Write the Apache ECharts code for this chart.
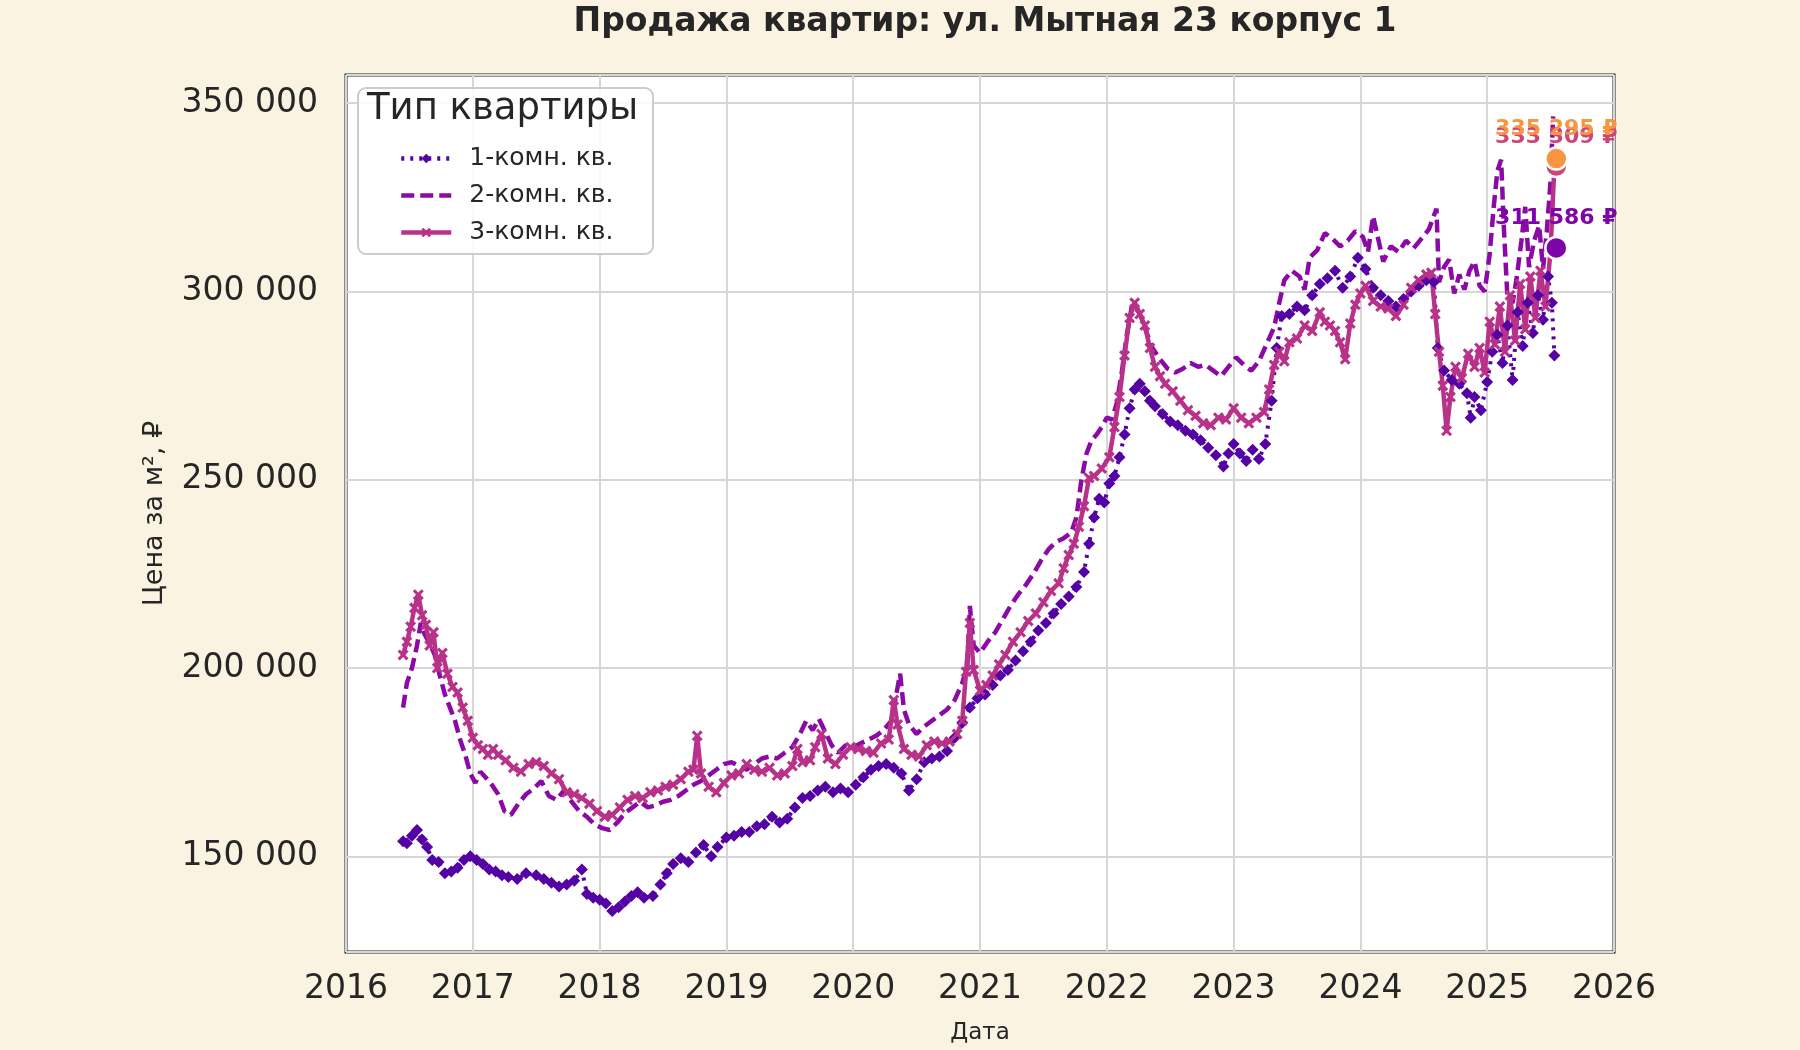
<!DOCTYPE html>
<html>
<head>
<meta charset="utf-8">
<script src="https://cdn.jsdelivr.net/npm/echarts@6/dist/echarts.min.js"></script>
<style>
  html, body { margin: 0; padding: 0; background: #faf3e1; }
  #chart { width: 1800px; height: 1050px; }
</style>
</head>
<body>
<div id="chart"></div>
<script>
// даты в долях года, цены за м2
var names = ['1-комн. кв.', '2-комн. кв.', '3-комн. кв.'];

var d1 = [2016.45,2016.48,2016.52,2016.56,2016.60,2016.64,2016.68,2016.73,2016.78,2016.83,2016.88,2016.93,2016.98,
  2017.03,2017.08,2017.13,2017.18,2017.23,2017.28,2017.35,2017.42,2017.50,2017.56,2017.62,2017.68,2017.74,2017.80,2017.86,2017.90,2017.95,
  2018.00,2018.05,2018.10,2018.15,2018.20,2018.25,2018.30,2018.35,2018.42,2018.48,2018.53,2018.58,2018.64,2018.70,2018.76,2018.82,2018.88,2018.93,
  2019.00,2019.06,2019.12,2019.18,2019.24,2019.30,2019.36,2019.42,2019.48,2019.54,2019.60,2019.66,2019.72,2019.78,2019.84,2019.90,2019.96,
  2020.02,2020.08,2020.14,2020.20,2020.26,2020.32,2020.38,2020.44,2020.50,2020.56,2020.62,2020.68,2020.74,2020.80,2020.86,2020.92,2020.98,
  2021.04,2021.10,2021.16,2021.22,2021.28,2021.34,2021.40,2021.46,2021.52,2021.58,2021.64,2021.70,2021.76,2021.82,2021.86,2021.90,2021.94,2021.98,
  2022.02,2022.06,2022.10,2022.14,2022.18,2022.22,2022.26,2022.30,2022.34,2022.38,2022.44,2022.50,2022.56,2022.62,2022.68,2022.74,2022.80,2022.86,2022.92,2022.96,
  2023.00,2023.05,2023.10,2023.15,2023.20,2023.25,2023.30,2023.34,2023.38,2023.44,2023.50,2023.56,2023.62,2023.68,2023.74,2023.80,2023.86,2023.92,2023.98,
  2024.04,2024.10,2024.16,2024.22,2024.28,2024.34,2024.40,2024.46,2024.52,2024.58,2024.61,2024.66,2024.72,2024.78,2024.84,2024.87,2024.90,2024.95,
  2025.00,2025.04,2025.08,2025.12,2025.16,2025.20,2025.24,2025.28,2025.32,2025.36,2025.40,2025.44,2025.48,2025.51,2025.53];
var v1 = [154000,153500,155500,157000,154500,152500,149000,148500,145500,146000,147000,149000,150000,
  149000,148000,146500,146000,145000,144500,144000,145500,145000,144000,143000,142000,142500,143500,146500,140000,139000,
  138500,137500,135500,136500,138000,139500,140500,139000,139500,142500,145500,148000,149500,148500,151000,153000,150000,152500,
  155000,155500,156500,156500,158000,158500,160500,159000,160000,163000,165500,166000,167500,168500,167000,168000,167000,
  169000,171000,173000,174000,174500,173500,172000,167500,170500,175000,176000,176500,178000,181500,185500,189500,192000,
  193000,195500,198000,199500,202000,204500,207000,210000,212000,214500,217000,219000,221500,225500,233000,240000,245000,244000,
  249000,251000,256000,262000,269000,274000,275500,273500,271000,269500,267500,265500,264500,263000,262000,260500,258500,256500,253500,257000,
  259500,257000,255000,258000,255500,259500,271000,285000,293500,294000,296000,295000,299000,302000,303500,305500,301000,304000,309000,
  306000,301000,299000,297500,296000,298000,300000,301500,303000,302500,285000,279000,276500,275500,273000,266500,272000,268500,
  276000,284000,288500,281000,291000,276500,294500,285500,297000,289000,299000,292500,304000,297000,283000];

var d2 = [2016.45,2016.48,2016.52,2016.56,2016.59,2016.62,2016.66,2016.70,2016.74,2016.78,2016.82,2016.86,2016.90,2016.94,2016.98,
  2017.02,2017.06,2017.10,2017.15,2017.20,2017.25,2017.30,2017.36,2017.42,2017.48,2017.54,2017.60,2017.66,2017.72,2017.78,2017.84,2017.90,2017.96,
  2018.02,2018.08,2018.14,2018.20,2018.26,2018.32,2018.38,2018.44,2018.50,2018.56,2018.62,2018.68,2018.74,2018.80,2018.86,2018.92,2018.98,
  2019.04,2019.10,2019.16,2019.22,2019.28,2019.34,2019.40,2019.46,2019.52,2019.58,2019.63,2019.68,2019.73,2019.78,2019.83,2019.88,2019.94,
  2020.00,2020.06,2020.12,2020.18,2020.24,2020.30,2020.34,2020.37,2020.40,2020.44,2020.50,2020.56,2020.62,2020.68,2020.74,2020.80,2020.86,2020.90,2020.92,2020.95,
  2021.00,2021.06,2021.12,2021.18,2021.24,2021.30,2021.36,2021.42,2021.48,2021.54,2021.60,2021.66,2021.72,2021.76,2021.80,2021.84,2021.88,2021.92,2021.96,
  2022.00,2022.04,2022.08,2022.12,2022.16,2022.20,2022.24,2022.28,2022.32,2022.36,2022.42,2022.48,2022.54,2022.60,2022.66,2022.72,2022.78,2022.84,2022.90,2022.96,
  2023.02,2023.08,2023.14,2023.20,2023.26,2023.32,2023.36,2023.40,2023.46,2023.52,2023.56,2023.60,2023.66,2023.72,2023.78,2023.84,2023.90,2023.96,
  2024.02,2024.06,2024.10,2024.14,2024.18,2024.24,2024.30,2024.36,2024.42,2024.48,2024.54,2024.60,2024.62,2024.66,2024.70,2024.74,2024.78,2024.82,2024.86,2024.90,2024.94,2024.98,
  2025.02,2025.05,2025.08,2025.11,2025.13,2025.16,2025.20,2025.23,2025.27,2025.30,2025.33,2025.37,2025.41,2025.44,2025.47,2025.50,2025.52];
var v2 = [189500,196000,200000,206000,212000,209000,206500,203500,198000,193000,189500,186000,181000,177000,172000,
  169500,172500,171000,169000,166500,162000,161000,164000,166500,168000,170000,166000,165000,167500,164500,162000,160500,158500,
  157500,157000,159000,161500,163000,164500,163000,163500,164500,165000,166000,167500,169000,170000,171500,173000,174500,
  175000,174000,173000,174500,176000,176500,176000,177500,179000,182500,186000,183500,186500,183000,179500,177500,179500,
  179000,180000,181000,182000,183500,186000,193000,198500,189000,185000,182500,184500,186000,187500,189000,191500,196000,200500,216500,206000,
  204000,207000,209500,213000,216500,219500,222000,225000,228500,231500,233500,234500,236000,240000,250000,257000,260500,262000,264000,
  266500,266000,270500,279000,289000,296500,295500,292500,288500,285000,282000,279500,278500,279500,281000,280000,280500,279000,277500,280000,
  282500,280500,279000,281500,286000,290500,297000,303000,305500,304000,300500,309000,311000,315500,314000,312000,313500,316000,
  314500,310500,320000,314000,308000,312000,310500,313500,311500,314000,316500,322000,302500,306500,308500,299500,304500,300500,305500,308000,301500,300000,
  310000,322000,332000,335000,318000,298000,297000,303000,313500,322500,306500,313500,317500,306000,316000,329500,346500];

var d3 = [2016.45,2016.48,2016.51,2016.54,2016.57,2016.60,2016.63,2016.66,2016.69,2016.72,2016.76,2016.80,2016.84,2016.88,2016.92,2016.96,
  2017.00,2017.04,2017.08,2017.12,2017.16,2017.20,2017.26,2017.32,2017.38,2017.44,2017.50,2017.56,2017.62,2017.68,2017.74,2017.80,2017.86,2017.92,2017.98,
  2018.04,2018.10,2018.16,2018.22,2018.28,2018.34,2018.40,2018.46,2018.52,2018.58,2018.64,2018.70,2018.74,2018.77,2018.80,2018.86,2018.92,2018.98,
  2019.04,2019.10,2019.16,2019.22,2019.28,2019.34,2019.40,2019.46,2019.52,2019.56,2019.60,2019.66,2019.70,2019.75,2019.80,2019.86,2019.92,2019.98,
  2020.04,2020.10,2020.16,2020.22,2020.28,2020.32,2020.35,2020.40,2020.46,2020.52,2020.58,2020.64,2020.70,2020.76,2020.82,2020.86,2020.89,2020.92,2020.95,
  2021.00,2021.05,2021.10,2021.15,2021.20,2021.26,2021.32,2021.38,2021.44,2021.50,2021.56,2021.62,2021.66,2021.70,2021.74,2021.78,2021.82,2021.86,2021.90,2021.96,
  2022.02,2022.06,2022.10,2022.14,2022.18,2022.22,2022.26,2022.30,2022.34,2022.38,2022.42,2022.46,2022.52,2022.58,2022.64,2022.70,2022.76,2022.82,2022.88,2022.94,
  2023.00,2023.06,2023.12,2023.18,2023.24,2023.28,2023.32,2023.36,2023.40,2023.44,2023.50,2023.56,2023.62,2023.68,2023.72,2023.76,2023.80,2023.84,2023.88,2023.92,2023.96,
  2024.00,2024.04,2024.10,2024.16,2024.22,2024.28,2024.34,2024.40,2024.46,2024.52,2024.56,2024.59,2024.62,2024.65,2024.68,2024.71,2024.75,2024.80,2024.85,2024.90,2024.94,2024.98,
  2025.02,2025.06,2025.10,2025.14,2025.18,2025.22,2025.26,2025.30,2025.34,2025.38,2025.42,2025.46,2025.50,2025.53];
var v3 = [203500,207000,211000,216000,219500,214000,211500,206000,209500,200000,204000,198500,195000,193500,189500,186000,
  181500,179500,178500,177000,178500,177000,175500,173500,172500,174500,175000,174000,172000,170500,167000,166500,165500,164000,162000,
  160500,161000,163000,165000,166000,165500,167000,167500,168500,169000,170500,172500,173000,182000,172000,168500,167000,169500,
  171500,172000,174500,173000,172500,173500,171500,172000,174000,178500,175000,175500,179000,182500,176000,174500,177000,179000,
  178500,178000,177500,180000,181000,191500,185000,178500,177000,176500,179500,180500,180000,180500,182500,186000,199000,212000,199500,
  194000,195500,198000,201000,203500,207000,209500,212500,214500,217500,220500,222500,226500,230000,233000,237500,243000,250500,251000,253000,
  256000,264000,272000,283000,293000,297000,294000,291000,285000,280000,277500,275500,273500,271000,268500,267000,265000,264500,266500,266000,
  269000,266500,265000,266500,268000,274000,280500,284000,281500,286500,287500,291000,289500,294500,292000,291000,289500,286500,282000,291500,296500,
  299500,301500,297500,296000,295500,293500,296500,301000,303000,304500,305000,294000,284000,275000,263000,272000,280000,277000,283500,280000,285000,278500,
  292000,286000,296000,284000,299000,287000,302000,290000,304000,293000,305500,296000,311000,333500];

// последние значения (подписи справа)
var lastDate = 2025.545;
var lastVals = [333309, 311586, 335295];
var lastColors = ['#cc4778', '#7e03a8', '#f89540'];

var lineColors = ['#5402a3', '#8b0aa5', '#b83289'];
var crossPath = 'path://M0,2 L2,0 L5,3 L8,0 L10,2 L7,5 L10,8 L8,10 L5,7 L2,10 L0,8 L3,5 Z';

function fmt(v) {
  return String(Math.round(v)).replace(/\B(?=(\d{3})+(?!\d))/g, ' ');
}
function pairs(d, v) {
  return d.map(function (x, i) { return [x, v[i]]; });
}

var chart = echarts.init(document.getElementById('chart'));
var font = 'DejaVu Sans';

var option = {
  backgroundColor: '#faf3e1',
  animation: false,
  textStyle: { fontFamily: font },
  title: {
    text: 'Продажа квартир: ул. Мытная 23 корпус 1',
    left: 980,
    top: 1,
    textAlign: 'center',
    textStyle: { fontFamily: font, fontSize: 33, fontWeight: 'bold', color: '#262626' }
  },
  grid: {
    left: 346, right: 186, top: 75, bottom: 85,
    show: true, backgroundColor: '#ffffff', borderColor: '#262626', borderWidth: 3
  },
  xAxis: {
    type: 'value', min: 2016, max: 2026, interval: 1,
    name: 'Дата', nameLocation: 'middle', nameGap: 70,
    nameTextStyle: { fontFamily: font, fontSize: 23, color: '#262626' },
    axisLine: { show: false }, axisTick: { show: false },
    axisLabel: { fontFamily: font, fontSize: 33, color: '#262626', margin: 21, formatter: function (v) { return String(v); } },
    splitLine: { show: true, lineStyle: { color: '#d6d6d6', width: 2 } }
  },
  yAxis: {
    type: 'value', min: 124600, max: 357500, splitNumber: 5,
    name: 'Цена за м², ₽', nameLocation: 'middle', nameGap: 178, nameRotate: 90,
    nameTextStyle: { fontFamily: font, fontSize: 27, color: '#262626' },
    axisLine: { show: false }, axisTick: { show: false },
    axisLabel: { fontFamily: font, fontSize: 33, color: '#262626', margin: 28,
      showMinLabel: false, showMaxLabel: false, formatter: fmt },
    splitLine: { show: true, lineStyle: { color: '#d6d6d6', width: 2 } }
  },
  legend: {
    data: [
      { name: names[0] },
      { name: names[1], itemStyle: { opacity: 0 } },
      { name: names[2] }
    ],
    orient: 'vertical', left: 394, top: 141, itemGap: 12,
    itemWidth: 50, itemHeight: 12, selectedMode: false, z: 6,
    lineStyle: { width: 4.5 },
    textStyle: { fontFamily: font, fontSize: 25, color: '#262626', padding: [0, 0, 0, 13] }
  },
  graphic: [
    { type: 'rect', left: 357, top: 87, z: 5,
      shape: { width: 295, height: 166, r: 8 },
      style: { fill: 'rgba(255,255,255,0.85)', stroke: '#cccccc', lineWidth: 2 } },
    { type: 'text', left: 367, top: 91, z: 6,
      style: { text: 'Тип квартиры', font: '37px "DejaVu Sans"', fill: '#262626' } }
  ],
  series: [
    {
      name: names[0], type: 'line', data: pairs(d1, v1),
      symbol: 'diamond', symbolSize: 12, showSymbol: true,
      itemStyle: { color: lineColors[0] },
      lineStyle: { color: lineColors[0], width: 4, type: [3, 6] }
    },
    {
      name: names[1], type: 'line', data: pairs(d2, v2),
      symbol: 'circle', showSymbol: false,
      itemStyle: { color: lineColors[1] },
      lineStyle: { color: lineColors[1], width: 4.5, type: [13, 6] }
    },
    {
      name: names[2], type: 'line', data: pairs(d3, v3),
      symbol: crossPath, symbolSize: 11, showSymbol: true,
      itemStyle: { color: lineColors[2] },
      lineStyle: { color: lineColors[2], width: 4.5, type: 'solid' }
    },
    {
      name: 'last', type: 'scatter', z: 8,
      data: lastVals.map(function (v, i) {
        return {
          value: [lastDate, v],
          itemStyle: { color: lastColors[i], opacity: 1, borderColor: '#ffffff', borderWidth: 2.5 },
          label: { color: lastColors[i] }
        };
      }),
      symbol: 'circle', symbolSize: 22,
      emphasis: { disabled: true },
      label: {
        show: true, position: 'top', distance: 6,
        fontFamily: font, fontSize: 22, fontWeight: 'bold',
        formatter: function (p) { return fmt(p.value[1]) + ' ₽'; }
      }
    }
  ]
};

chart.setOption(option);
</script>
</body>
</html>
